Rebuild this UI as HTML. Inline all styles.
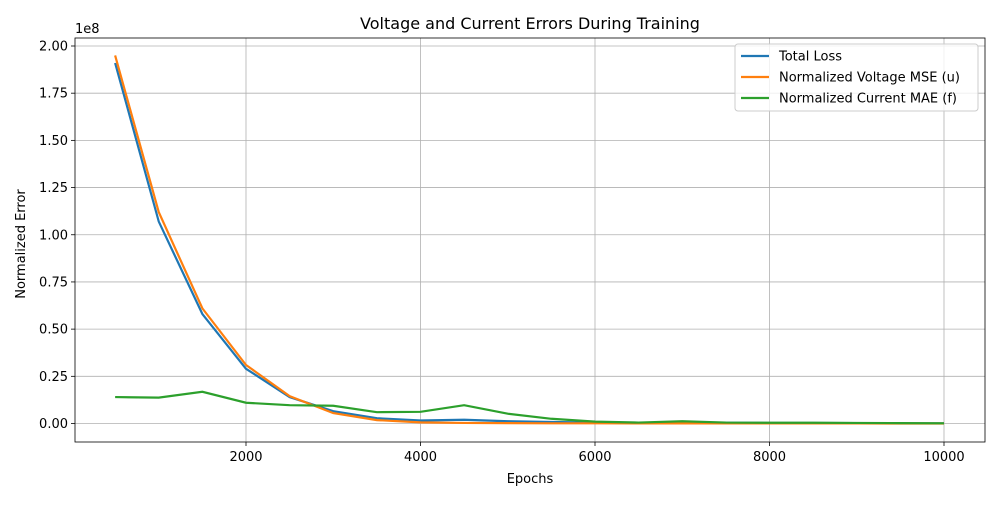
<!DOCTYPE html>
<html><head><meta charset="utf-8"><style>
body{margin:0;background:#fff;font-family:"Liberation Sans","DejaVu Sans",sans-serif}
svg text{font-family:"DejaVu Sans","Liberation Sans",sans-serif}
</style></head><body>
<svg id="chart" width="1000" height="500" viewBox="0 0 1000 500"></svg>
<script>
const epochs=[500,1000,1500,2000,2500,3000,3500,4000,4500,5000,5500,6000,6500,7000,7500,8000,8500,9000,9500,10000];
const totalLoss=[1.91,1.07,0.58,0.29,0.14,0.065,0.028,0.016,0.02,0.012,0.008,0.005,0.004,0.006,0.004,0.003,0.003,0.002,0.001,0.001];
const voltageMSE=[1.95,1.12,0.61,0.31,0.145,0.055,0.018,0.006,0.003,0.002,0.001,0.001,0.0005,0.0005,0.0004,0.0003,0.0003,0.0002,0.0001,0.0001];
const currentMAE=[0.14,0.137,0.168,0.11,0.097,0.094,0.06,0.062,0.097,0.052,0.025,0.01,0.005,0.012,0.005,0.004,0.004,0.003,0.002,0.001];
const xTicks=[2000,4000,6000,8000,10000];
const yTicks=[0,0.25,0.5,0.75,1.0,1.25,1.5,1.75,2.0];
const seriesNames=["Total Loss","Normalized Voltage MSE (u)","Normalized Current MAE (f)"];
const colors=["#1f77b4","#ff7f0e","#2ca02c"];
const L=75,R=985,T=38,B=442;
const X=v=>246+(v-2000)*(174.5/2000);
const Y=v=>423.5-v*188.75;
const svg=document.getElementById('chart');
const NS='http://www.w3.org/2000/svg';
function mk(tag,attrs,parent){const e=document.createElementNS(NS,tag);for(const k in attrs)e.setAttribute(k,attrs[k]);(parent||svg).appendChild(e);return e;}
const grid=mk('g',{});


xTicks.forEach(t=>{
 mk('line',{x1:X(t),x2:X(t),y1:T,y2:B,stroke:'#b0b0b0','stroke-width':0.8},grid);
 mk('line',{x1:X(t),x2:X(t),y1:B,y2:B+4,stroke:'#000','stroke-width':0.8});
 const tx=mk('text',{x:X(t),y:B+19,'text-anchor':'middle','font-size':13});tx.textContent=t;
 
 
});
yTicks.forEach(t=>{
 mk('line',{x1:L,x2:R,y1:Y(t),y2:Y(t),stroke:'#b0b0b0','stroke-width':0.8},grid);
 mk('line',{x1:L-4,x2:L,y1:Y(t),y2:Y(t),stroke:'#000','stroke-width':0.8});
 const tx=mk('text',{x:L-7,y:Y(t)+4.5,'text-anchor':'end','font-size':13});tx.textContent=t.toFixed(2);
 
 
});
[totalLoss,voltageMSE,currentMAE].forEach((s,i)=>{
 const p=mk('polyline',{points:s.map((v,j)=>X(epochs[j])+','+Y(v)).join(' '),fill:'none',stroke:colors[i],'stroke-width':2.2});
 
 
});
const fr=mk('rect',{x:L,y:T,width:R-L,height:B-T,fill:'none',stroke:'#000','stroke-width':0.8});


let t=mk('text',{x:530,y:29,'text-anchor':'middle','font-size':16});t.textContent='Voltage and Current Errors During Training';

t=mk('text',{x:530,y:483,'text-anchor':'middle','font-size':13});t.textContent='Epochs';

t=mk('text',{x:25,y:244,'text-anchor':'middle','font-size':13,transform:'rotate(-90 25 244)'});t.textContent='Normalized Error';

t=mk('text',{x:75,y:33,'font-size':13});t.textContent='1e8';

const lg=mk('g',{});


mk('rect',{x:735,y:44,width:243,height:67,rx:3,fill:'#fff','fill-opacity':0.8,stroke:'#ccc'},lg);
seriesNames.forEach((n,i)=>{
 const y=56+i*21;
 mk('line',{x1:741,x2:769,y1:y,y2:y,stroke:colors[i],'stroke-width':2.2},lg);
 const tx=mk('text',{x:779,y:y+4.5,'font-size':13},lg);tx.textContent=n;
 
 
});
</script>
</body></html>
